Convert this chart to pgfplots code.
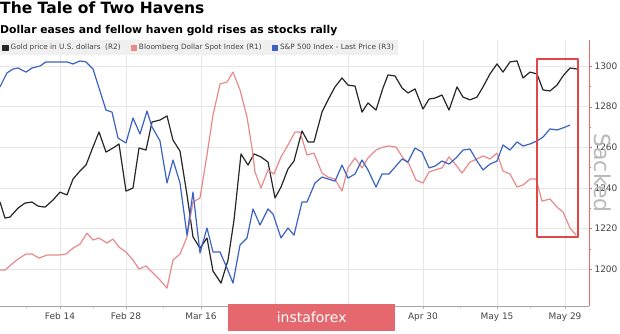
\documentclass[border=0pt]{standalone}
\usepackage{fontspec}
\setmainfont{DejaVu Sans}
\usepackage{pgfplots}
\pgfplotsset{compat=1.18}
\definecolor{goldc}{HTML}{262626}
\definecolor{dollc}{HTML}{E98A8A}
\definecolor{spxc}{HTML}{3A62C4}
\definecolor{axred}{HTML}{E07070}
\definecolor{gridc}{HTML}{E6E6E6}
\definecolor{legbg}{HTML}{F0F0F0}
\definecolor{boxred}{HTML}{E04848}
\definecolor{wmred}{HTML}{E4686D}
\definecolor{ticklab}{HTML}{444444}
\begin{document}
\begin{tikzpicture}[x=1pt,y=1pt]
\useasboundingbox (0,0) rectangle (620,333);
\node[anchor=north west,inner sep=0pt,font=\fontsize{15.5}{15.5}\bfseries\selectfont] at (0,331) {The Tale of Two Havens};
\node[anchor=north west,inner sep=0pt,font=\fontsize{10.8}{10.8}\bfseries\selectfont] at (0,308) {Dollar eases and fellow haven gold rises as stocks rally};
\begin{axis}[
  at={(0pt,27pt)}, anchor=south west,
  scale only axis, width=589pt, height=266pt,
  xmin=0, xmax=589, ymin=1181.8, ymax=1312.8,
  axis x line*=bottom, axis y line*=right,
  x axis line style={color=gray!70},
  y axis line style={color=axred, line width=0.8pt},
  xtick={60,126,201,275,348,423,497,565},
  xticklabels={Feb 14,Feb 28,Mar 16,,,Apr 30,May 15,May 29},
  minor xtick={26,93,163,237,311,386,460,530},
  ytick={1200,1220,1240,1260,1280,1300},
  minor y tick num=1,
  grid=major, major grid style={color=gridc, line width=0.6pt},
  tick align=outside,
  major tick length=3pt, minor tick length=2pt,
  xtick style={color=gray!60},
  ytick style={color=axred},
  /pgf/number format/assume math mode=true,
  /pgf/number format/1000 sep={},
  ticklabel style={font=\fontsize{9}{9}\selectfont, text=ticklab},
  yticklabel style={xshift=-1pt},
  legend style={at={(0,1)}, anchor=north west, draw=none, fill=legbg,
    font=\fontsize{7.3}{8}\selectfont, text=ticklab, inner sep=2pt,
    legend cell align=left, /tikz/every even column/.append style={column sep=8pt}},
  legend columns=3,
  legend image code/.code={\fill (0pt,-2.6pt) rectangle (5.2pt,2.6pt);},
  line join=round,
]
\addplot[goldc, line width=1.2pt] coordinates {
(0,1233.0)(5,1225.1)(10,1225.6)(18,1230.0)(25,1232.5)(32,1233.0)(38,1231.0)(45,1230.5)(53,1234.0)(60,1237.9)(67,1236.5)(73,1244.3)(80,1248.3)(86,1251.2)(93,1260.1)(99,1267.5)(106,1257.6)(113,1259.6)(119,1261.6)(126,1238.4)(133,1239.9)(139,1259.6)(146,1258.6)(152,1272.4)(160,1273.4)(167,1275.4)(173,1263.5)(180,1258.1)(187,1236.5)(193,1215.8)(200,1210.3)(207,1215.3)(213,1199.0)(221,1193.1)(228,1204.4)(234,1224.1)(241,1256.7)(248,1251.2)(254,1256.7)(261,1255.2)(268,1252.7)(275,1235.0)(281,1240.4)(288,1249.3)(294,1253.2)(302,1268.0)(308,1262.6)(314,1262.6)(322,1277.3)(328,1283.3)(335,1289.7)(342,1294.1)(348,1290.6)(355,1290.1)(362,1277.3)(368,1281.8)(376,1278.3)(383,1289.2)(388,1295.6)(395,1295.1)(402,1289.2)(408,1286.7)(415,1288.7)(423,1278.8)(429,1283.7)(435,1284.2)(442,1285.7)(449,1278.3)(457,1289.7)(463,1284.7)(470,1283.3)(477,1284.7)(483,1289.7)(490,1296.1)(497,1301.0)(503,1297.0)(510,1302.0)(517,1302.5)(523,1294.1)(530,1297.0)(537,1296.1)(543,1288.2)(550,1287.7)(557,1290.6)(563,1295.1)(570,1299.0)(577,1298.5)
};
\addlegendentry{Gold price in U.S. dollars\ \ (R2)}
\addplot[dollc, line width=1.2pt] coordinates {
(0,1199.5)(5,1199.5)(12,1202.5)(18,1204.9)(26,1207.4)(32,1207.4)(39,1205.4)(47,1206.9)(53,1206.9)(59,1206.9)(66,1207.4)(73,1210.3)(80,1212.3)(87,1217.7)(93,1214.3)(99,1215.3)(107,1212.8)(113,1214.8)(119,1210.8)(126,1208.4)(133,1204.4)(139,1200.0)(146,1201.5)(152,1198.5)(160,1194.6)(167,1190.6)(173,1204.4)(180,1207.4)(187,1215.8)(193,1233.0)(200,1235.0)(207,1256.2)(213,1275.9)(220,1291.1)(227,1292.1)(233,1297.0)(240,1288.2)(247,1274.9)(252,1259.6)(255,1247.8)(261,1239.9)(268,1248.8)(274,1246.8)(281,1255.2)(288,1261.1)(295,1267.5)(300,1267.5)(307,1256.2)(314,1257.1)(322,1247.3)(328,1245.3)(335,1244.3)(342,1238.4)(348,1249.8)(355,1254.7)(362,1249.8)(368,1254.7)(376,1258.6)(383,1260.1)(389,1260.6)(396,1260.1)(403,1254.7)(409,1251.7)(416,1243.8)(423,1242.4)(429,1247.8)(435,1248.8)(442,1249.8)(449,1255.2)(456,1251.2)(462,1247.3)(470,1252.7)(477,1254.2)(483,1255.7)(490,1254.2)(497,1257.1)(503,1248.3)(510,1246.8)(517,1240.4)(523,1241.4)(530,1244.3)(536,1244.3)(542,1233.5)(550,1234.5)(557,1230.5)(563,1228.1)(570,1220.2)(576,1216.7)
};
\addlegendentry{Bloomberg Dollar Spot Index (R1)}
\addplot[spxc, line width=1.2pt] coordinates {
(0,1289.7)(7,1296.6)(13,1298.5)(18,1299.0)(26,1297.0)(32,1299.0)(40,1300.0)(46,1302.0)(53,1302.0)(60,1302.0)(67,1302.0)(73,1301.0)(80,1302.5)(86,1302.0)(93,1298.5)(99,1289.2)(106,1278.3)(112,1277.3)(118,1264.5)(126,1262.1)(133,1274.4)(140,1266.5)(147,1277.8)(152,1270.0)(160,1263.1)(167,1242.4)(173,1253.7)(180,1242.4)(187,1216.7)(193,1237.9)(200,1207.9)(207,1220.2)(213,1208.4)(220,1208.4)(227,1200.5)(233,1193.1)(240,1211.8)(247,1215.3)(253,1229.6)(260,1221.7)(268,1229.6)(273,1227.1)(281,1215.3)(288,1220.2)(294,1216.7)(302,1233.0)(307,1233.0)(315,1242.4)(322,1245.3)(335,1243.3)(342,1251.2)(348,1244.8)(355,1246.8)(362,1253.7)(368,1248.8)(376,1240.4)(382,1246.8)(389,1246.8)(402,1254.2)(408,1252.7)(415,1259.6)(422,1257.6)(429,1249.8)(435,1250.7)(442,1253.2)(449,1251.7)(456,1254.7)(463,1258.6)(470,1259.1)(477,1253.2)(483,1248.8)(490,1251.7)(497,1253.2)(503,1261.1)(510,1258.6)(517,1262.6)(523,1260.6)(530,1261.6)(537,1263.1)(543,1265.0)(550,1269.0)(557,1268.5)(563,1269.5)(570,1270.9)
};
\addlegendentry{S\&P 500 Index - Last Price (R3)}
\draw[boxred, line width=1.2pt] (axis cs:537,1303.4) rectangle (axis cs:578,1215.8);
\end{axis}
\node[rotate=-90, text=gray!55, font=\fontsize{22}{22}\selectfont] at (603,160) {Sacked};
\node[anchor=north west, fill=wmred, minimum width=167pt, minimum height=27pt, inner sep=0pt, text=white, font=\fontsize{14}{14}\selectfont] at (228,29) {instaforex};
\end{tikzpicture}
\end{document}
